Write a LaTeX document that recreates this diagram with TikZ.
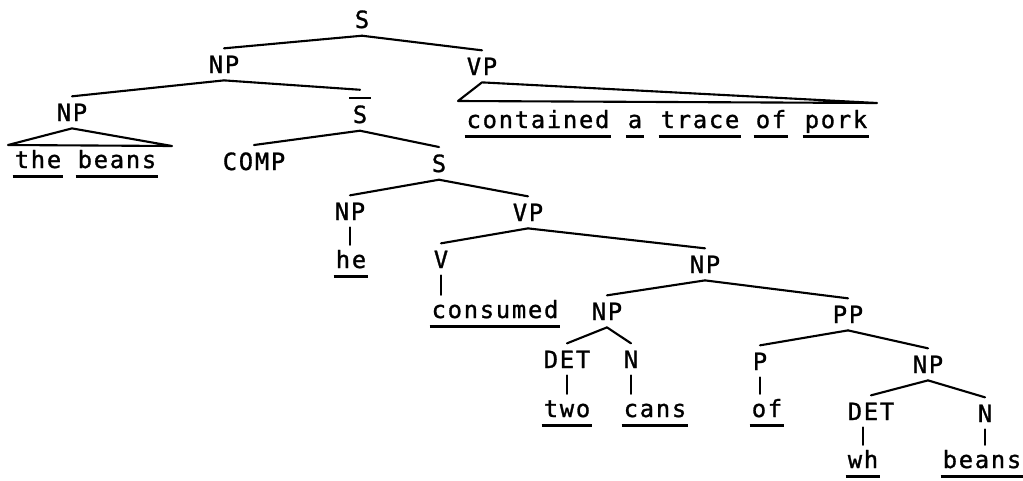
\documentclass[tikz,border=0pt]{standalone}
\usepackage{fontspec}
\newfontfamily\tw[LetterSpace=7.5,FakeBold=1.2]{DejaVu Sans Mono}
\tikzset{
  cat/.style={font=\tw\fontsize{13.5}{16}\selectfont, anchor=base,
              inner xsep=1pt, inner ysep=4pt},
  wrd/.style={cat, text height=9pt, text depth=0.8pt},
  branch/.style={line width=1.2pt, line cap=round, line join=round},
  uline/.style={line width=1.6pt}
}
% S with a bar over it
\newcommand{\barS}{\vbox{\hrule height 1.2pt\kern3.5pt\hbox{\kern2pt S\kern2pt}}}

\begin{document}
\begin{tikzpicture}[x=0.02cm, y=-0.02cm]
  \fill[white] (0,0) rectangle (1023,480);
  \useasboundingbox (0,0) rectangle (1023,480);
  % categories
  \node[cat] (s)    at (362,28)  {S};
  \node[cat] (np)   at (224,73)  {NP};
  \node[cat] (vp)   at (482,75)  {VP};
  \node[cat] (npa)  at (72,121)  {NP};
  \node[cat] (sbar) at (360,123) {\barS};
  \node[cat] (comp) at (254,170) {COMP};
  \node[cat] (sb)   at (439,172) {S};
  \node[cat] (npb)  at (350,220) {NP};
  \node[cat] (vpb)  at (528,221) {VP};
  \node[cat] (v)    at (441,268) {V};
  \node[cat] (npc)  at (705,273) {NP};
  \node[cat] (npd)  at (607,320) {NP};
  \node[cat] (pp)   at (848,323) {PP};
  \node[cat] (deta) at (567,368) {DET};
  \node[cat] (na)   at (631,368) {N};
  \node[cat] (p)    at (760,370) {P};
  \node[cat] (npe)  at (928,373) {NP};
  \node[cat] (detb) at (871,420) {DET};
  \node[cat] (nb)   at (985,422) {N};
  % words
  \node[wrd] (wthe)       at (38,168)  {the};
  \node[wrd] (wbeans)     at (117,168) {beans};
  \node[wrd] (wcontained) at (538,128) {contained};
  \node[wrd] (wa)         at (635,128) {a};
  \node[wrd] (wtrace)     at (700,128) {trace};
  \node[wrd] (wof)        at (771,128) {of};
  \node[wrd] (wpork)      at (836,128) {pork};
  \node[wrd] (whe)        at (351,268) {he};
  \node[wrd] (wconsumed)  at (495,318) {consumed};
  \node[wrd] (wtwo)       at (567,417) {two};
  \node[wrd] (wcans)      at (655,417) {cans};
  \node[wrd] (wofb)       at (767,417) {of};
  \node[wrd] (wwh)        at (863,468) {wh};
  \node[wrd] (wbeansb)    at (982,468) {beans};
  % base corners of the two triangles
  \coordinate (abl) at (8,145);
  \coordinate (abr) at (172,146);
  \coordinate (cbl) at (458,101);
  \coordinate (cbr) at (877,103);
  % branches
  \foreach \a/\b in {s/np, s/vp, np/npa, np/sbar, sbar/comp, sbar/sb, sb/npb,
      sb/vpb, vpb/v, vpb/npc, npc/npd, npc/pp, npd/deta, npd/na, pp/p,
      pp/npe, npe/detb, npe/nb}
    \draw[branch] (\a.south) -- (\b.north);
  \foreach \a/\b in {npb/whe, v/wconsumed, deta/wtwo, na/wcans, p/wofb, nb/wbeansb}
    \draw[branch] (\a.south) -- (\a.south |- \b.north);
  \draw[branch] (wwh.north |- detb.south) -- (wwh.north);
  \draw[branch] (npa.south) -- (abl) -- (abr) -- cycle;
  \draw[branch] (vp.south) -- (cbl) -- (cbr) -- cycle;
  % underlined words
  \foreach \w in {wthe, wbeans, wcontained, wa, wtrace, wof, wpork, whe,
      wconsumed, wtwo, wcans, wofb, wwh, wbeansb}
    \draw[uline] (\w.south west) -- (\w.south east);
\end{tikzpicture}
\end{document}
